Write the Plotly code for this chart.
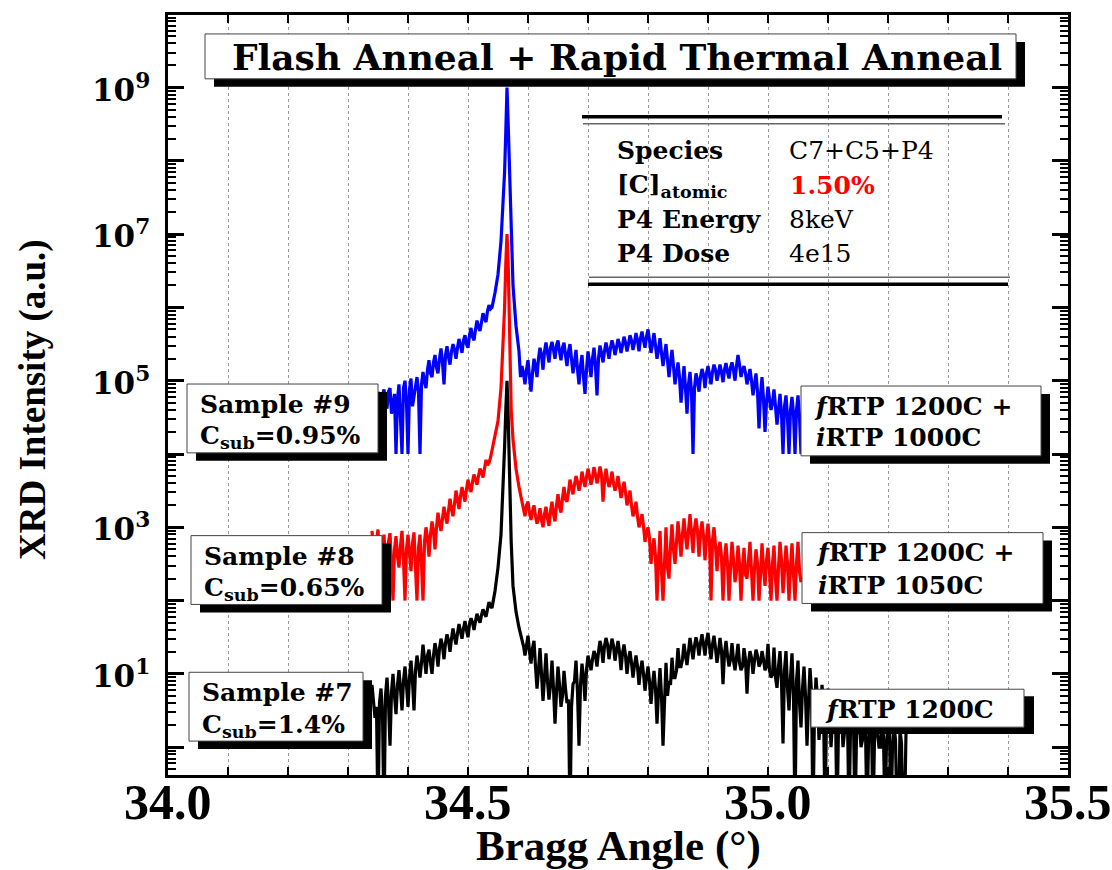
import plotly.graph_objects as go

# ------------------------------------------------------------------ data
# Bragg angle grid (degrees) shared by the three scans
angle_main = [
    34.340, 34.345, 34.350, 34.355, 34.360, 34.365, 34.370, 34.375, 34.380, 34.385,
    34.390, 34.395, 34.400, 34.405, 34.410, 34.415, 34.420, 34.425, 34.430, 34.435,
    34.440, 34.445, 34.450, 34.455, 34.460, 34.465, 34.470, 34.475, 34.480, 34.485,
    34.490, 34.495, 34.500, 34.505, 34.510, 34.515, 34.520, 34.525, 34.530, 34.535,
    34.540, 34.545, 34.550, 34.555, 34.558, 34.561, 34.563, 34.565, 34.567, 34.569,
    34.572, 34.575, 34.580, 34.585, 34.590, 34.595, 34.600, 34.605, 34.610, 34.615,
    34.620, 34.625, 34.630, 34.635, 34.640, 34.645, 34.650, 34.655, 34.660, 34.665,
    34.670, 34.675, 34.680, 34.685, 34.690, 34.695, 34.700, 34.705, 34.710, 34.715,
    34.720, 34.725, 34.730, 34.735, 34.740, 34.745, 34.750, 34.755, 34.760, 34.765,
    34.770, 34.775, 34.780, 34.785, 34.790, 34.795, 34.800, 34.805, 34.810, 34.815,
    34.820, 34.825, 34.830, 34.835, 34.840, 34.845, 34.850, 34.855, 34.860, 34.865,
    34.870, 34.875, 34.880, 34.885, 34.890, 34.895, 34.900, 34.905, 34.910, 34.915,
    34.920, 34.925, 34.930, 34.935, 34.940, 34.945, 34.950, 34.955, 34.960, 34.965,
    34.970, 34.975, 34.980, 34.985, 34.990, 34.995, 35.000, 35.005, 35.010, 35.015,
    35.020, 35.025, 35.030, 35.035, 35.040, 35.045, 35.050, 35.055,
]
# in-between angles (left flank and right side of the peak)
angle_mid_a = [
    34.3425, 34.3475, 34.3525, 34.3575, 34.3625, 34.3675, 34.3725, 34.3775, 34.3825, 34.3875,
    34.3925, 34.3975, 34.4025, 34.4075, 34.4125, 34.4175, 34.4225, 34.4275, 34.4325, 34.4375,
    34.4425, 34.4475, 34.4525, 34.4575, 34.4625, 34.4675, 34.4725, 34.4775, 34.4825, 34.4875,
    34.4925, 34.4975, 34.5025, 34.5075, 34.5125, 34.5175, 34.5225, 34.5275, 34.5325, 34.5375,
]
angle_mid_b = [
    34.5875, 34.5925, 34.5975, 34.6025, 34.6075, 34.6125, 34.6175, 34.6225, 34.6275, 34.6325,
    34.6375, 34.6425, 34.6475, 34.6525, 34.6575, 34.6625, 34.6675, 34.6725, 34.6775, 34.6825,
    34.6875, 34.6925, 34.6975, 34.7025, 34.7075, 34.7125, 34.7175, 34.7225, 34.7275, 34.7325,
    34.7375, 34.7425, 34.7475, 34.7525, 34.7575, 34.7625, 34.7675, 34.7725, 34.7775, 34.7825,
    34.7875, 34.7925, 34.7975, 34.8025, 34.8075, 34.8125, 34.8175, 34.8225, 34.8275, 34.8325,
    34.8375, 34.8425, 34.8475, 34.8525, 34.8575, 34.8625, 34.8675, 34.8725, 34.8775, 34.8825,
    34.8875, 34.8925, 34.8975, 34.9025, 34.9075, 34.9125, 34.9175, 34.9225, 34.9275, 34.9325,
    34.9375, 34.9425, 34.9475, 34.9525, 34.9575, 34.9625, 34.9675, 34.9725, 34.9775, 34.9825,
    34.9875, 34.9925, 34.9975, 35.0025, 35.0075, 35.0125, 35.0175, 35.0225, 35.0275, 35.0325,
    35.0375, 35.0425, 35.0475, 35.0525,
]
# extra angles recorded only for sample #7
angle_tail = [
    35.060, 35.065, 35.070, 35.075, 35.080, 35.085, 35.090, 35.095, 35.100, 35.105,
    35.110, 35.115, 35.120, 35.125, 35.130, 35.135, 35.140, 35.145, 35.150, 35.155,
    35.160, 35.165, 35.170, 35.175, 35.180, 35.185, 35.190, 35.195, 35.200, 35.205,
    35.210, 35.215, 35.220, 35.225, 35.230,
]
angle_mid_tail = [
    35.0575, 35.0625, 35.0675, 35.0725, 35.0775, 35.0825, 35.0875, 35.0925, 35.0975, 35.1025,
    35.1075, 35.1125, 35.1175, 35.1225, 35.1275, 35.1325, 35.1375, 35.1425, 35.1475, 35.1525,
    35.1575, 35.1625, 35.1675, 35.1725, 35.1775, 35.1825, 35.1875, 35.1925, 35.1975, 35.2025,
    35.2075, 35.2125, 35.2175, 35.2225, 35.2275,
]

# log10 of XRD intensity (a.u.)
log_sample9 = [
    None, None, 4.85, 4.72, 4.88, 4.62, 4.90, 4.70, 4.00, 4.95,
    4.00, 5.00, 4.00, 5.03, 4.80, 5.05, 4.00, 5.12, 4.90, 5.28,
    5.05, 5.35, 5.10, 5.44, 4.95, 5.47, 5.22, 5.50, 5.30, 5.57,
    5.38, 5.62, 5.45, 5.72, 5.55, 5.82, 5.68, 5.92, 5.80, 6.03,
    6.00, 6.20, 6.45, 6.90, 7.35, 7.85, 8.40, 9.00, 8.50, 7.85,
    6.95, 6.30, 5.75, 5.40, 5.20, 4.95, 5.28, 4.85, 5.30, 5.05,
    5.45, 5.15, 5.52, 5.25, 5.53, 5.30, 5.55, 5.28, 5.52, 5.20,
    5.50, 5.10, 5.42, 4.95, 5.35, 4.82, 5.40, 5.05, 5.45, 4.80,
    5.48, 5.25, 5.52, 5.30, 5.55, 5.35, 5.57, 5.38, 5.60, 5.40,
    5.62, 5.42, 5.65, 5.40, 5.67, 5.45, 5.70, 5.38, 5.65, 5.30,
    5.58, 5.20, 5.50, 5.05, 5.42, 4.95, 5.25, 4.70, 5.20, 4.55,
    5.12, 4.00, 5.10, 4.85, 5.16, 4.90, 5.20, 4.95, 5.22, 5.00,
    5.22, 4.98, 5.24, 5.03, 5.25, 5.00, 5.35, 5.05, 5.20, 4.95,
    5.16, 4.80, 5.10, 4.35, 5.05, 4.30, 4.92, 4.60, 4.88, 4.40,
    4.82, 4.00, 4.80, 4.00, 4.78, 4.00, 4.80, 4.00,
]
log_sample9_mid_a = [
    None, None, 4.60, 4.80, 4.70, 4.85, 4.55, 4.82, 4.75, 4.55,
    4.90, 4.70, 4.88, 4.65, 4.95, 4.85, 4.95, 4.98, 5.15, 5.10,
    5.25, 5.18, 5.30, 5.25, 5.35, 5.32, 5.40, 5.42, 5.45, 5.48,
    5.55, 5.50, 5.62, 5.60, 5.70, 5.72, 5.80, 5.85, 5.95, 5.98,
]
log_sample9_mid_b = [
    5.05, 5.10, 5.15, 5.05, 5.10, 5.20, 5.30, 5.35, 5.40, 5.38,
    5.45, 5.42, 5.48, 5.40, 5.45, 5.35, 5.40, 5.30, 5.25, 5.15,
    5.20, 5.05, 5.15, 5.25, 5.30, 5.20, 5.30, 5.38, 5.40, 5.42,
    5.45, 5.47, 5.45, 5.50, 5.48, 5.52, 5.50, 5.55, 5.52, 5.55,
    5.58, 5.55, 5.60, 5.55, 5.50, 5.48, 5.42, 5.38, 5.35, 5.28,
    5.25, 5.20, 5.10, 5.05, 4.95, 4.90, 4.95, 4.85, 4.90, 5.00,
    5.05, 5.08, 5.10, 5.08, 5.12, 5.15, 5.10, 5.12, 5.15, 5.12,
    5.18, 5.15, 5.20, 5.22, 5.15, 5.10, 5.05, 5.00, 4.95, 4.85,
    4.80, 4.75, 4.70, 4.75, 4.70, 4.65, 4.60, 4.55, 4.65, 4.50,
    4.60, 4.55, 4.60, 4.50,
]
log_sample8 = [
    2.95, 2.40, 2.97, 2.50, 2.90, 2.35, 2.92, 2.00, 2.88, 2.45,
    2.95, 2.00, 2.90, 2.40, 2.93, 2.00, 2.90, 2.00, 3.00, 2.60,
    3.08, 2.70, 3.20, 2.95, 3.28, 3.05, 3.39, 3.15, 3.50, 3.25,
    3.55, 3.35, 3.65, 3.48, 3.72, 3.58, 3.80, 3.68, 3.92, 3.88,
    4.05, 4.20, 4.45, 4.90, 5.40, 6.00, 6.60, 7.00, 6.60, 5.90,
    4.60, 4.20, 3.80, 3.55, 3.40, 3.15, 3.35, 3.10, 3.30, 3.05,
    3.26, 3.00, 3.28, 3.02, 3.35, 3.08, 3.45, 3.20, 3.55, 3.35,
    3.65, 3.45, 3.70, 3.50, 3.76, 3.55, 3.80, 3.58, 3.82, 3.60,
    3.83, 3.35, 3.80, 3.55, 3.76, 3.50, 3.70, 3.40, 3.62, 3.30,
    3.50, 3.15, 3.35, 3.00, 3.18, 2.80, 3.00, 2.50, 2.85, 2.00,
    2.95, 2.00, 3.00, 2.30, 3.04, 2.50, 3.08, 2.60, 3.12, 2.70,
    3.18, 2.65, 3.12, 2.60, 3.08, 2.55, 3.05, 2.00, 3.00, 2.40,
    2.80, 2.00, 2.78, 2.00, 2.80, 2.25, 2.75, 2.00, 2.72, 2.30,
    2.80, 2.00, 2.70, 2.00, 2.78, 2.20, 2.72, 2.00, 2.75, 2.00,
    2.80, 2.10, 2.75, 2.00, 2.78, 2.00, 2.80, 2.25,
]
log_sample8_mid_a = [
    2.70, 2.80, 2.65, 2.75, 2.55, 2.80, 2.50, 2.70, 2.60, 2.75,
    2.55, 2.70, 2.65, 2.78, 2.45, 2.72, 2.50, 2.80, 2.85, 2.90,
    2.95, 3.00, 3.05, 3.12, 3.15, 3.22, 3.25, 3.32, 3.38, 3.42,
    3.45, 3.52, 3.55, 3.62, 3.65, 3.70, 3.75, 3.80, 3.85, 3.95,
]
log_sample8_mid_b = [
    3.45, 3.25, 3.30, 3.20, 3.22, 3.15, 3.12, 3.10, 3.18, 3.12,
    3.22, 3.18, 3.30, 3.28, 3.40, 3.38, 3.48, 3.55, 3.58, 3.62,
    3.60, 3.65, 3.68, 3.70, 3.68, 3.72, 3.70, 3.72, 3.62, 3.65,
    3.62, 3.60, 3.58, 3.55, 3.50, 3.48, 3.38, 3.30, 3.22, 3.15,
    3.08, 3.02, 2.92, 2.85, 2.70, 2.60, 2.55, 2.40, 2.50, 2.45,
    2.75, 2.70, 2.80, 2.85, 2.90, 2.88, 2.95, 2.92, 2.98, 2.95,
    2.90, 2.88, 2.85, 2.80, 2.82, 2.75, 2.70, 2.60, 2.55, 2.50,
    2.45, 2.55, 2.40, 2.50, 2.45, 2.35, 2.55, 2.40, 2.45, 2.50,
    2.35, 2.45, 2.55, 2.40, 2.50, 2.30, 2.45, 2.55, 2.40, 2.50,
    2.45, 2.35, 2.50, 2.40,
]
log_sample7 = [
    0.85, 0.40, -1.00, 0.80, -1.00, 0.95, 0.02, 1.00, 0.45, 1.05,
    0.50, 1.10, 0.55, 1.18, 0.50, 1.25, 0.95, 1.40, 1.00, 1.33,
    1.00, 1.42, 1.10, 1.48, 1.20, 1.54, 1.30, 1.62, 1.40, 1.68,
    1.48, 1.72, 1.50, 1.76, 1.60, 1.82, 1.70, 1.88, 1.78, 1.98,
    1.90, 2.13, 2.45, 2.90, 3.40, 4.10, 4.60, 5.00, 4.50, 3.70,
    2.80, 2.20, 1.85, 1.63, 1.45, 1.25, 1.52, 1.14, 1.45, 0.80,
    1.35, 0.63, 1.28, 0.65, 1.18, 0.32, 1.10, 0.55, 1.04, 0.60,
    -1.00, 0.86, 1.18, 0.02, 1.14, 0.63, 1.25, 1.05, 1.31, 1.10,
    1.45, 1.15, 1.49, 1.20, 1.48, 1.18, 1.45, 1.05, 1.40, 1.00,
    1.31, 0.95, 1.25, 0.85, 1.18, 0.77, 1.10, 0.59, 1.04, 0.32,
    1.08, 0.02, 1.15, 0.90, 1.22, 0.95, 1.35, 1.10, 1.41, 1.12,
    1.49, 1.20, 1.50, 1.25, 1.54, 1.25, 1.56, 1.20, 1.52, 1.15,
    1.49, 0.86, 1.45, 1.10, 1.42, 1.05, 1.41, 1.05, 1.35, 0.73,
    1.31, 1.00, 1.33, 1.10, 1.31, 1.05, 1.41, 0.95, 1.36, 0.81,
    1.31, 0.05, 1.31, 0.50, 1.28, -1.00, 1.18, 0.27,
]
log_sample7_mid_a = [
    0.65, 0.55, 0.60, 0.45, 0.70, 0.60, 0.75, 0.70, 0.85, 0.80,
    0.90, 0.85, 0.95, 0.90, 1.05, 1.10, 1.15, 1.20, 1.25, 1.15,
    1.25, 1.30, 1.35, 1.38, 1.42, 1.45, 1.48, 1.50, 1.55, 1.58,
    1.62, 1.60, 1.68, 1.70, 1.72, 1.75, 1.80, 1.82, 1.88, 1.92,
]
log_sample7_mid_b = [
    1.55, 1.38, 1.40, 1.30, 1.35, 1.10, 1.05, 1.00, 0.95, 0.90,
    0.85, 0.80, 0.75, 0.85, 0.70, 0.80, 0.65, 0.55, 0.90, 0.75,
    0.85, 0.95, 1.05, 1.15, 1.20, 1.25, 1.30, 1.35, 1.38, 1.40,
    1.35, 1.38, 1.32, 1.30, 1.28, 1.25, 1.20, 1.15, 1.12, 1.10,
    1.05, 1.00, 0.95, 0.90, 0.85, 0.80, 0.75, 0.70, 0.60, 0.70,
    0.85, 0.95, 1.05, 1.10, 1.20, 1.25, 1.30, 1.35, 1.38, 1.40,
    1.42, 1.40, 1.45, 1.38, 1.40, 1.35, 1.30, 1.32, 1.28, 1.25,
    1.20, 1.18, 1.22, 1.15, 1.10, 1.20, 1.15, 1.22, 1.18, 1.25,
    1.15, 1.20, 1.10, 1.05, 1.00, 0.95, 1.10, 0.90, 1.05, 0.80,
    0.95, 0.70, 0.90, 0.60,
]
log_sample7_tail = [
    1.10, 0.02, 1.08, -1.00, 0.95, 0.10, 0.85, -1.00, 0.80, 0.00,
    0.70, -1.00, 0.65, 0.00, 0.60, -1.00, 0.55, -1.00, 0.50, 0.00,
    0.45, -1.00, 0.40, -1.00, 0.40, 0.00, 0.35, -1.00, 0.30, -1.00,
    0.30, -1.00, 0.25, -1.00, 0.20,
]
log_sample7_mid_tail = [
    0.80, 0.70, 0.60, 0.75, 0.50, 0.65, 0.40, 0.60, 0.45, 0.55,
    0.35, 0.50, 0.30, 0.45, 0.20, 0.40, 0.25, 0.35, 0.15, 0.30,
    0.10, 0.25, 0.05, 0.30, 0.10, 0.20, 0.00, 0.15, 0.05, 0.20,
    0.00, 0.10, -1.00, 0.05, -1.00,
]

series_names = ["Sample #9", "Sample #8", "Sample #7"]
series_colors = ["#0000ff", "#ff0000", "#000000"]

x_label_vals = [34.0, 34.5, 35.0, 35.5]
x_label_text = ["34.0", "34.5", "35.0", "35.5"]
x_minor_vals = [34.1, 34.2, 34.3, 34.4, 34.6, 34.7, 34.8, 34.9,
                35.1, 35.2, 35.3, 35.4]
y_decades = [0, 1, 2, 3, 4, 5, 6, 7, 8, 9, 10]
y_labelled = [1, 3, 5, 7, 9]

table_labels = ["Species", "[C]<sub>atomic</sub>", "P4 Energy", "P4 Dose"]
table_values = ["C7+C5+P4", "1.50%", "8keV", "4e15"]


# ------------------------------------------------------------------ helpers
def merged(xs, ys):
    pairs = sorted(zip(xs, ys), key=lambda p: p[0])
    return [p[0] for p in pairs], [None if p[1] is None else 10 ** p[1] for p in pairs]


L, T, W, H = 168, 13, 900, 762   # plot area in pixels


def px(x):
    return (x - L) / W


def py(y):
    return (T + H - y) / H


SERIF = "DejaVu Serif"
TIMES = "Liberation Serif"
LW = 3.2

x9, y9 = merged(angle_main + angle_mid_a + angle_mid_b,
                log_sample9 + log_sample9_mid_a + log_sample9_mid_b)
x8, y8 = merged(angle_main + angle_mid_a + angle_mid_b,
                log_sample8 + log_sample8_mid_a + log_sample8_mid_b)
x7, y7 = merged(angle_main + angle_mid_a + angle_mid_b + angle_tail + angle_mid_tail,
                log_sample7 + log_sample7_mid_a + log_sample7_mid_b
                + log_sample7_tail + log_sample7_mid_tail)

fig = go.Figure()
for xs, ys, name, color in [(x9, y9, series_names[0], series_colors[0]),
                            (x8, y8, series_names[1], series_colors[1]),
                            (x7, y7, series_names[2], series_colors[2])]:
    fig.add_trace(go.Scatter(x=xs, y=ys, mode="lines", name=name,
                             line=dict(color=color, width=LW)))

shapes = []


def boxed(x0, y0, x1, y1, dx=9, dy=8):
    shapes.append(dict(type="rect", xref="paper", yref="paper", layer="above",
                       x0=px(x0 + dx), x1=px(x1 + dx), y0=py(y0 + dy), y1=py(y1 + dy),
                       fillcolor="black", line=dict(width=0)))
    shapes.append(dict(type="rect", xref="paper", yref="paper", layer="above",
                       x0=px(x0), x1=px(x1), y0=py(y0), y1=py(y1),
                       fillcolor="white", line=dict(color="#444444", width=1)))


def hline(x0, x1, y, width, color):
    shapes.append(dict(type="line", xref="paper", yref="paper", layer="above",
                       x0=px(x0), x1=px(x1), y0=py(y), y1=py(y),
                       line=dict(color=color, width=width)))


annotations = []


def label(text, x, y, size, family=SERIF, bold=True, color="black",
          xanchor="left", angle=0):
    annotations.append(dict(text=text, xref="paper", yref="paper", x=px(x), y=py(y),
                            xanchor=xanchor, yanchor="middle", showarrow=False,
                            textangle=angle,
                            font=dict(family=family, size=size, color=color,
                                      weight="bold" if bold else "normal")))


# title box
boxed(205, 32, 1016, 77, dx=9, dy=8)
label("Flash Anneal + Rapid Thermal Anneal", 617, 55, 36, xanchor="center")

# info table
hline(582, 1002, 115, 3.5, "black")
hline(583, 1005, 122, 1.5, "#666666")
hline(589, 1010, 276, 1.5, "#666666")
hline(588, 1008, 283, 3.5, "black")
row_y = [149, 184, 218, 252]
for i in range(4):
    label(table_labels[i], 615, row_y[i], 25)
    if i == 1:
        label(table_values[i], 788, row_y[i], 25, color="#ff0000")
    else:
        label(table_values[i], 787, row_y[i], 25, bold=False)

# sample boxes (left)
boxed(187, 383, 378, 452)
label("Sample #9", 198, 404, 25)
label("C<sub>sub</sub>=0.95%", 198, 436, 25)
boxed(191, 535, 382, 604)
label("Sample #8", 202, 556, 25)
label("C<sub>sub</sub>=0.65%", 202, 589, 25)
boxed(189, 672, 363, 741)
label("Sample #7", 200, 692, 25)
label("C<sub>sub</sub>=1.4%", 200, 726, 25)

# anneal boxes (right)
boxed(801, 385, 1041, 455)
label("<i>f</i>RTP 1200C +", 812, 406, 25)
label("<i>i</i>RTP 1000C", 814, 437, 25)
boxed(802, 532, 1043, 603)
label("<i>f</i>RTP 1200C +", 814, 552, 25)
label("<i>i</i>RTP 1050C", 816, 585, 25)
boxed(811, 689, 1024, 727, dx=10, dy=7)
label("<i>f</i>RTP 1200C", 823, 709, 25)

# axis titles
label("Bragg Angle (°)", 618, 846, 43, family=TIMES, xanchor="center")
label("XRD Intensity (a.u.)", 33, 399, 37, family=TIMES, xanchor="center", angle=-90)

# tick labels
for v, t in zip(x_label_vals, x_label_text):
    annotations.append(dict(text=t, xref="x", yref="paper", x=v, y=py(802),
                            xanchor="center", yanchor="middle", showarrow=False,
                            font=dict(family=TIMES, size=50, color="black", weight="bold")))
for k in y_labelled:
    annotations.append(dict(text="10<sup>%d</sup>" % k, xref="paper", yref="y",
                            x=px(152), y=k, xanchor="right", yanchor="middle",
                            showarrow=False,
                            font=dict(family=SERIF, size=31, color="black", weight="bold")))

y_tick_vals = [10 ** k for k in y_decades]
y_minor_vals = [m * 10 ** k for k in range(-1, 10) for m in range(2, 10)]
grid_style = dict(showgrid=True, gridcolor="#999999", griddash="dot", gridwidth=1)

fig.update_layout(
    width=1112, height=870,
    margin=dict(l=L, r=1112 - L - W, t=T, b=870 - T - H),
    paper_bgcolor="white", plot_bgcolor="white",
    showlegend=False,
    shapes=shapes, annotations=annotations,
    xaxis=dict(range=[34.0, 35.5], tickmode="array", tickvals=x_label_vals,
               showticklabels=False, ticks="inside", ticklen=8, tickwidth=2,
               tickcolor="black", showline=True, linewidth=3, linecolor="black",
               mirror="ticks", zeroline=False, **grid_style,
               minor=dict(tickmode="array", tickvals=x_minor_vals, ticks="inside",
                          ticklen=8, tickwidth=2, tickcolor="black", **grid_style)),
    yaxis=dict(type="log", range=[-0.38, 9.99], tickmode="array",
               tickvals=y_tick_vals, showticklabels=False, ticks="inside",
               ticklen=16, tickwidth=2.5, tickcolor="black", showline=True,
               linewidth=3, linecolor="black", mirror="ticks", showgrid=False,
               zeroline=False,
               minor=dict(tickmode="array", tickvals=y_minor_vals, ticks="inside",
                          ticklen=8, tickwidth=2, tickcolor="black", showgrid=False)),
)

fig.write_html("out.html")
